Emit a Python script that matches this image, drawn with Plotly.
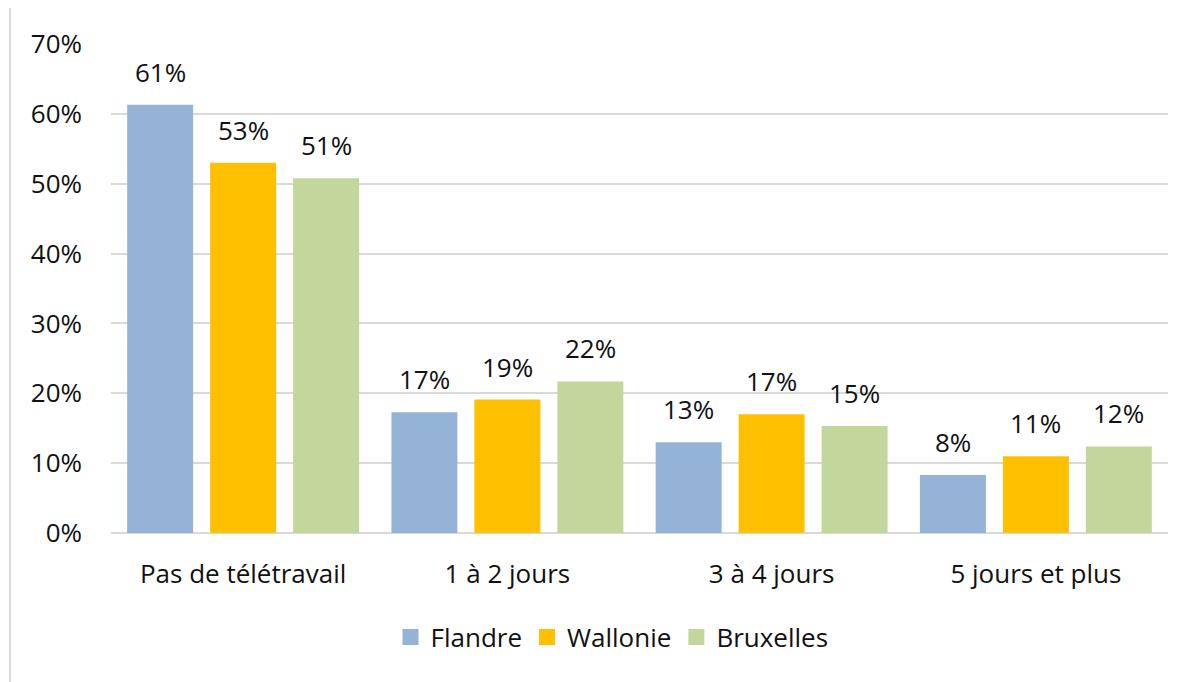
import plotly.graph_objects as go

categories = ["Pas de télétravail", "1 à 2 jours", "3 à 4 jours", "5 jours et plus"]
flandre = [0.613, 0.173, 0.130, 0.083]
wallonie = [0.530, 0.191, 0.170, 0.110]
bruxelles = [0.508, 0.217, 0.153, 0.124]

series = [
    ("Flandre", flandre, "#95B3D7"),
    ("Wallonie", wallonie, "#FFC000"),
    ("Bruxelles", bruxelles, "#C3D69B"),
]

FONT = "Open Sans, Calibri, sans-serif"
TEXT = "#111111"
GRID = "#d9d9d9"
FS = 26

fig = go.Figure()
for name, vals, color in series:
    fig.add_trace(go.Bar(name=name, x=categories, y=vals, marker_color=color,
                         marker_line_width=0, showlegend=False))
    # legend entry with a larger square swatch
    fig.add_trace(go.Scatter(name=name, x=[None], y=[None], mode="markers",
                             marker=dict(symbol="square", size=17, color=color)))

# data labels above the bars
slot = 0.314
for k, (name, vals, color) in enumerate(series):
    for i, v in enumerate(vals):
        fig.add_annotation(x=i + (k - 1) * slot, y=v, text=f"{round(v * 100)}%",
                           showarrow=False, yanchor="bottom", yshift=13,
                           font=dict(size=FS, color=TEXT, family=FONT))

# chart-area frame (only left and top visible in the crop)
fig.add_shape(type="line", xref="paper", yref="paper", x0=-0.0955, x1=-0.0955,
              y0=-0.5, y1=1.0777, line=dict(color=GRID, width=2))
fig.add_shape(type="line", xref="paper", yref="paper", x0=-0.0955, x1=1.5,
              y0=1.0777, y1=1.0777, line=dict(color=GRID, width=2))

fig.update_layout(
    width=1192, height=674,
    barmode="group", bargap=0.058, bargroupgap=0.205,
    paper_bgcolor="white", plot_bgcolor="white",
    margin=dict(l=103, r=32, t=36, b=149),
    font=dict(family=FONT, size=FS, color=TEXT),
    showlegend=True,
    legend=dict(orientation="h", x=0.474, xanchor="center", y=-0.2127, yanchor="middle",
                font=dict(size=FS, color=TEXT)),
    xaxis=dict(showgrid=False, showline=False, ticks="", ticklabelstandoff=23,
               tickfont=dict(size=FS, color=TEXT)),
    yaxis=dict(range=[0, 0.7], dtick=0.1, tickformat=".0%", showgrid=True,
               gridcolor=GRID, gridwidth=2, zeroline=True, zerolinecolor=GRID,
               zerolinewidth=2, showline=False, ticks="", ticklabelstandoff=28,
               tickfont=dict(size=FS, color=TEXT)),
)

fig.write_html("out.html")
